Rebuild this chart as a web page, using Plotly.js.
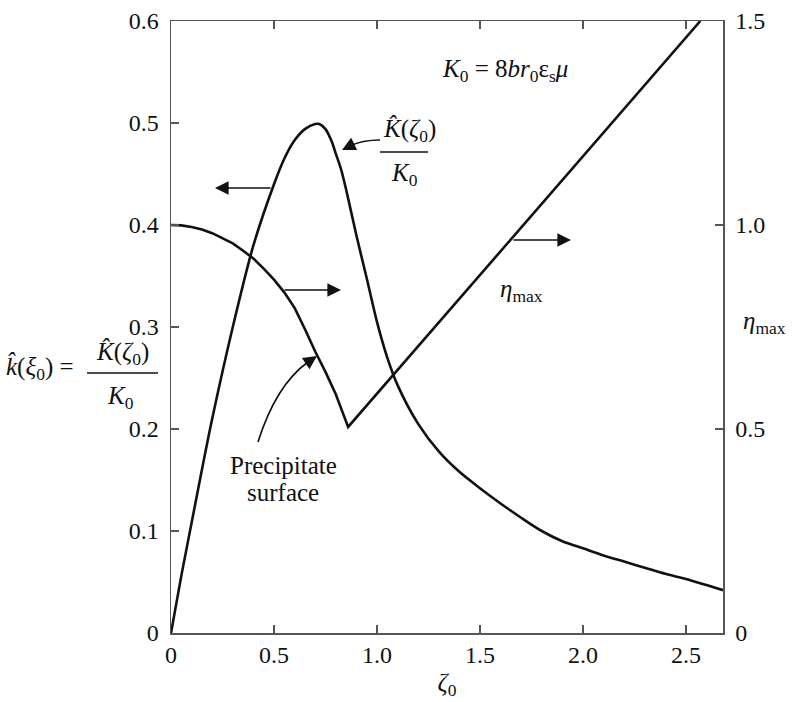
<!DOCTYPE html>
<html><head><meta charset="utf-8">
<script src="https://cdn.plot.ly/plotly-3.0.1.min.js"></script>
<style>body{margin:0;background:#fff}</style>
</head><body>
<div id="chart" style="width:792px;height:702px"></div>
<script>
// K-hat(zeta0)/K0 curve (left axis)
var zetaK = [0,0.05,0.1,0.15,0.2,0.3,0.4,0.5,0.55,0.6,0.65,0.7,0.72,0.75,0.78,0.8,0.825,0.85,0.9,0.95,1.0,1.05,1.1,1.2,1.3,1.4,1.5,1.6,1.7,1.8,1.9,2.0,2.1,2.2,2.3,2.4,2.5,2.6,2.68];
var kRatio = [0,0.056,0.108,0.16,0.21,0.30,0.38,0.44,0.465,0.483,0.494,0.499,0.499,0.494,0.482,0.47,0.455,0.435,0.39,0.348,0.305,0.27,0.243,0.205,0.178,0.158,0.142,0.127,0.113,0.1,0.09,0.083,0.076,0.07,0.064,0.058,0.053,0.047,0.042];
// eta_max curve (right axis)
var zetaEta = [0,0.05,0.1,0.15,0.2,0.25,0.3,0.35,0.4,0.45,0.5,0.55,0.6,0.65,0.7,0.75,0.8,0.83,0.86,2.57];
var etaMax = [1.0,0.999,0.995,0.989,0.98,0.968,0.955,0.937,0.918,0.893,0.866,0.835,0.797,0.745,0.69,0.64,0.585,0.545,0.505,1.5];
// tick labels
var xTicks = [0,0.5,1.0,1.5,2.0,2.5];
var xTickText = ["0","0.5","1.0","1.5","2.0","2.5"];
var yTicks = [0,0.1,0.2,0.3,0.4,0.5,0.6];
var yTickText = ["0","0.1","0.2","0.3","0.4","0.5","0.6"];
var y2Ticks = [0,0.5,1.0,1.5];
var y2TickText = ["0","0.5","1.0","1.5"];

var W=792,H=702,L=171,R=69,T=21,B=69;
var pw=W-L-R, ph=H-T-B;
function px(x){return (x-L)/pw;}
function py(y){return (H-B-y)/ph;}
var FONT='"Liberation Serif", "Times New Roman", serif';
var FS=25, TFS=24;

var traces=[
 {x:zetaK,y:kRatio,type:'scatter',mode:'lines',line:{color:'#111',width:2.6,shape:'spline',smoothing:0.8},yaxis:'y',hoverinfo:'skip'},
 {x:zetaEta,y:etaMax,type:'scatter',mode:'lines',line:{color:'#111',width:2.6},yaxis:'y2',hoverinfo:'skip'}
];

function txt(x,y,t,opt){
  var a={xref:'paper',yref:'paper',x:px(x),y:py(y),text:t,showarrow:false,
    font:{family:FONT,size:FS,color:'#111'},xanchor:'center',yanchor:'middle'};
  if(opt) for(var k in opt) a[k]=opt[k];
  return a;
}
function arrow(hx,hy,tx,ty){
  return {xref:'paper',yref:'paper',x:px(hx),y:py(hy),ax:tx-hx,ay:ty-hy,text:'',showarrow:true,
    arrowhead:2,arrowsize:1.7,arrowwidth:1.6,arrowcolor:'#111',standoff:0,startstandoff:0};
}
function pp(x,y){return px(x).toFixed(5)+' '+py(y).toFixed(5);}

var annotations=[
 txt(505,70,"<i>K</i><sub>0</sub> = 8<i>br</i><sub>0</sub>ε<sub>s</sub><i>μ</i>"),
 txt(409,130,"<i>K̂</i>(<i>ζ</i><sub>0</sub>)"),
 txt(404,174,"<i>K</i><sub>0</sub>"),
 txt(521,290,"<i>η</i><sub>max</sub>"),
 txt(765,322,"<i>η</i><sub>max</sub>"),
 txt(283,465,"Precipitate"),
 txt(283,492,"surface"),
 txt(40,368,"<i>k̂</i>(<i>ξ</i><sub>0</sub>) ="),
 txt(122,353,"<i>K̂</i>(<i>ζ</i><sub>0</sub>)"),
 txt(120,397,"<i>K</i><sub>0</sub>"),
 arrow(215,188,272,188),
 arrow(341,290,283,290),
 arrow(571,240,512,240),
 arrow(317,356,305,364),
 arrow(342,150,354,144)
];

var shapes=[
 {type:'line',xref:'paper',yref:'paper',x0:px(380),x1:px(428),y0:py(152),y1:py(152),line:{color:'#111',width:1.4}},
 {type:'line',xref:'paper',yref:'paper',x0:px(87),x1:px(158),y0:py(373),y1:py(373),line:{color:'#111',width:1.4}},
 {type:'path',xref:'paper',yref:'paper',path:'M '+pp(258,442)+' Q '+pp(276,385)+' '+pp(308,362),line:{color:'#111',width:1.6}},
 {type:'path',xref:'paper',yref:'paper',path:'M '+pp(380,140)+' Q '+pp(362,140)+' '+pp(350,146),line:{color:'#111',width:1.6}}
];

var axisCommon={showgrid:false,zeroline:false,showline:true,linecolor:'#555',linewidth:1.5,
  ticks:'inside',ticklen:8,tickwidth:1.5,tickcolor:'#555',tickfont:{family:FONT,size:TFS,color:'#111'}};

var layout={
 width:W,height:H,margin:{l:L,r:R,t:T,b:B},paper_bgcolor:'#fff',plot_bgcolor:'#fff',showlegend:false,
 xaxis:Object.assign({},axisCommon,{range:[0,2.68],tickvals:xTicks,ticktext:xTickText,mirror:'ticks',
   title:{text:"<i>ζ</i><sub>0</sub>",font:{family:FONT,size:FS,color:'#111'},standoff:6}}),
 yaxis:Object.assign({},axisCommon,{range:[0,0.6],tickvals:yTicks,ticktext:yTickText,ticklabelstandoff:6}),
 yaxis2:Object.assign({},axisCommon,{range:[0,1.5],tickvals:y2Ticks,ticktext:y2TickText,overlaying:'y',side:'right',ticklabelstandoff:6}),
 annotations:annotations,shapes:shapes
};
Plotly.newPlot('chart',traces,layout,{staticPlot:true});
</script>
</body></html>
